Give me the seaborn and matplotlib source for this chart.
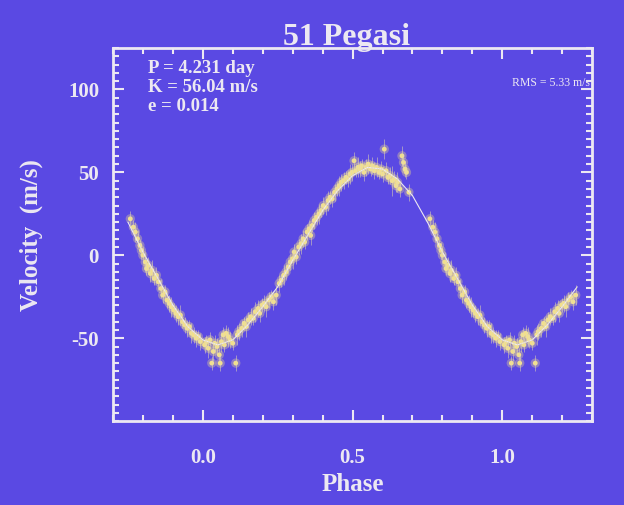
import numpy as np
import pandas as pd
import seaborn as sns
import matplotlib
matplotlib.use("Agg")
import matplotlib.pyplot as plt
from matplotlib.ticker import MultipleLocator

phase = [0.006, 0.012, 0.018, 0.024, 0.030, 0.035, 0.040, 0.048, 0.055, 0.058,
         0.062, 0.068, 0.072, 0.078, 0.085, 0.090, 0.100, 0.110, 0.115, 0.120,
         0.130, 0.138, 0.145, 0.152, 0.160, 0.168, 0.175, 0.185, 0.190, 0.198,
         0.205, 0.212, 0.220, 0.228, 0.236, 0.245,
         0.255, 0.262, 0.270, 0.278, 0.285, 0.292, 0.300, 0.305, 0.312, 0.320,
         0.328, 0.335, 0.340, 0.348, 0.355, 0.360, 0.365, 0.372, 0.380, 0.388,
         0.395, 0.402, 0.410, 0.418, 0.425, 0.432, 0.440, 0.448, 0.455, 0.462,
         0.470, 0.478, 0.485, 0.492, 0.498,
         0.505, 0.510, 0.518, 0.525, 0.530, 0.538, 0.545, 0.552, 0.560, 0.566,
         0.573, 0.580, 0.588, 0.595, 0.600, 0.606, 0.612, 0.618, 0.625, 0.632,
         0.640, 0.645, 0.650, 0.658, 0.665, 0.670, 0.675, 0.680, 0.688,
         0.758, 0.768, 0.775, 0.782, 0.790, 0.795, 0.800, 0.808, 0.812, 0.818,
         0.825, 0.830, 0.838, 0.845, 0.852, 0.860, 0.866, 0.874, 0.880, 0.888,
         0.895, 0.903, 0.910, 0.918, 0.925, 0.932, 0.940, 0.948, 0.955, 0.962,
         0.970, 0.978, 0.985, 0.992]
velocity = [-54, -52, -56, -51, -65, -58, -53, -55, -60, -65,
            -52, -48, -54, -47, -49, -51, -53, -65, -48, -46,
            -44, -41, -43, -39, -37, -38, -34, -32, -35, -30,
            -29, -31, -27, -25, -28, -24,
            -17, -15, -12, -10, -7, -4, -2, 2, -1, 5,
            7, 10, 8, 14, 16, 12, 18, 21, 23, 25,
            27, 30, 29, 33, 35, 34, 38, 40, 42, 44,
            45, 47, 46, 49, 50,
            57, 51, 53, 52, 54, 50, 53, 55, 52, 54,
            51, 53, 50, 52, 49, 64, 51, 47, 48, 45,
            46, 42, 44, 40, 60, 56, 52, 50, 38,
            22, 17, 14, 10, 6, 3, 0, -4, -8, -6,
            -11, -9, -14, -12, -16, -20, -24, -22, -27, -29,
            -31, -33, -35, -37, -36, -40, -42, -44, -43, -47,
            -48, -50, -49, -52]
v_err = [5, 4, 6, 5, 4, 6, 5, 5, 4, 5,
         6, 5, 4, 5, 6, 5, 4, 5, 6, 5,
         5, 4, 6, 5, 5, 4, 6, 5, 5, 4,
         5, 6, 5, 4, 5, 6,
         5, 4, 6, 5, 4, 5, 6, 5, 4, 5,
         6, 5, 4, 5, 5, 6, 4, 5, 5, 6,
         4, 5, 5, 6, 4, 5, 5, 4, 6, 5,
         5, 4, 5, 6, 5,
         5, 4, 6, 5, 4, 5, 5, 6, 4, 5,
         5, 6, 4, 5, 5, 6, 5, 4, 5, 9,
         5, 4, 6, 5, 6, 5, 5, 4, 5,
         5, 4, 6, 5, 4, 5, 5, 6, 4, 5,
         5, 6, 4, 5, 5, 6, 5, 4, 5, 5,
         6, 4, 5, 5, 6, 4, 5, 5, 4, 6,
         5, 5, 4, 5]

# orbital fit curve
fit_phase = [-0.25, -0.20, -0.15, -0.10, -0.05, 0.00, 0.05, 0.10, 0.15, 0.20,
             0.25, 0.30, 0.35, 0.40, 0.45, 0.50, 0.55, 0.60, 0.65, 0.70,
             0.75, 0.80, 0.85, 0.90, 0.95, 1.00, 1.05, 1.10, 1.15, 1.20, 1.25]
fit_vel = [20, 2, -14, -30, -43, -51, -54, -51, -42, -31,
           -19, -3, 12, 27, 39, 48, 53, 52, 46, 36,
           20, 2, -14, -30, -43, -51, -54, -51, -42, -31, -19]

BG = "#5a49e3"
FG = "#ece8f2"
PT = "#f2e08c"

df = pd.DataFrame({"phase": phase, "velocity": velocity, "err": v_err})
# phase-folded plot repeats the ends of the cycle
df = pd.concat([df[df.phase > 0.75].assign(phase=lambda d: d.phase - 1),
                df,
                df[df.phase < 0.25].assign(phase=lambda d: d.phase + 1)])
fit = pd.DataFrame({"phase": fit_phase, "velocity": fit_vel})

sns.set_style("ticks")
plt.rcParams["font.family"] = ["Liberation Serif", "DejaVu Serif"]
plt.rcParams["font.weight"] = "bold"
plt.rcParams["axes.unicode_minus"] = False

fig = plt.figure(figsize=(6.24, 5.05), dpi=100, facecolor=BG)
ax = fig.add_axes([0.181, 0.166, 0.768, 0.739], facecolor=BG)

sns.lineplot(data=fit, x="phase", y="velocity", color=FG, lw=0.8, ax=ax)
ax.errorbar(df.phase, df.velocity, yerr=df.err, fmt="none",
            ecolor="#e6dcb0", elinewidth=0.6, alpha=0.6)
sns.scatterplot(data=df, x="phase", y="velocity", color=PT, s=45,
                alpha=0.35, edgecolor="none", ax=ax)
sns.scatterplot(data=df, x="phase", y="velocity", color=PT, s=12,
                edgecolor="none", ax=ax)

ax.set_xlim(-0.3, 1.3)
ax.set_ylim(-100, 125)
ax.xaxis.set_major_locator(MultipleLocator(0.5))
ax.xaxis.set_minor_locator(MultipleLocator(0.1))
ax.yaxis.set_major_locator(MultipleLocator(50))
ax.yaxis.set_minor_locator(MultipleLocator(5))
ax.set_yticks([-50, 0, 50, 100])
ax.tick_params(which="both", direction="in", top=True, right=True,
               color=FG, labelcolor=FG, labelsize=15, width=1.5, pad=10)
ax.tick_params(axis="x", which="both", pad=19)
ax.tick_params(which="major", length=8)
ax.tick_params(which="minor", length=4)
for s in ax.spines.values():
    s.set_color(FG)
    s.set_linewidth(2)

ax.set_xlabel("Phase", color=FG, fontsize=18, fontweight="bold", labelpad=4)
ax.set_ylabel("Velocity  (m/s)", color=FG, fontsize=18, fontweight="bold",
              labelpad=18)
fig.text(0.556, 0.925, "51 Pegasi", color=FG, fontsize=23, fontweight="bold",
         ha="center", va="center")

ax.text(0.073, 0.946, "P = 4.231 day", transform=ax.transAxes, color=FG,
        fontsize=13.5, va="center")
ax.text(0.073, 0.895, "K = 56.04 m/s", transform=ax.transAxes, color=FG,
        fontsize=13.5, va="center")
ax.text(0.073, 0.844, "e = 0.014", transform=ax.transAxes, color=FG,
        fontsize=13.5, va="center")
ax.text(0.995, 0.905, "RMS = 5.33 m/s", transform=ax.transAxes, color=FG,
        fontsize=8.5, fontweight="normal", ha="right", va="center")

fig.savefig("out.png", dpi=100, facecolor=BG)
